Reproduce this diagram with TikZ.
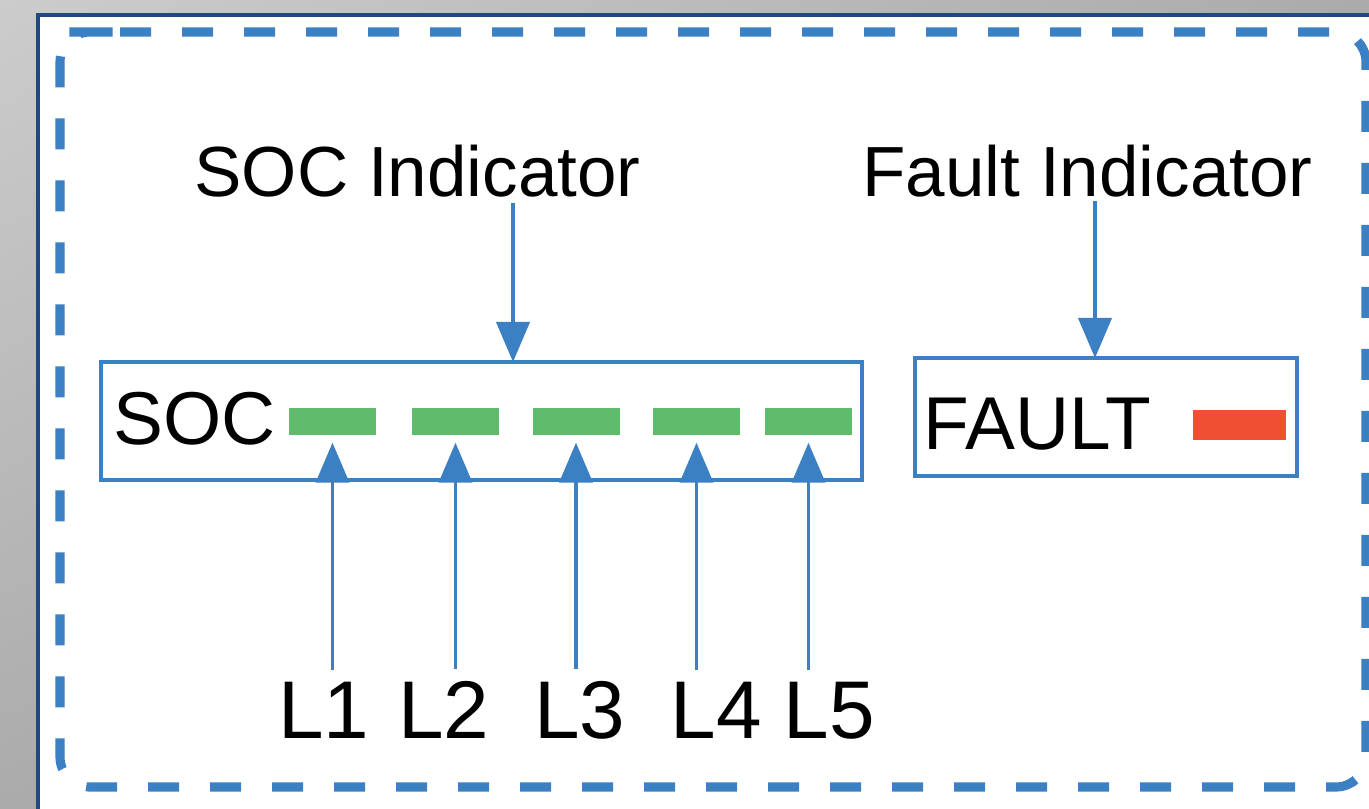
\documentclass[tikz,border=0pt]{standalone}
\usepackage{fontspec}
\setmainfont{Liberation Sans}
\usepackage{xcolor}
\usetikzlibrary{arrows.meta,shadings}

\definecolor{lineblue}{RGB}{58,128,194}
\definecolor{frameblue}{RGB}{31,74,125}
\definecolor{ledgreen}{RGB}{97,187,109}
\definecolor{ledred}{RGB}{239,80,51}

\begin{document}
\begin{tikzpicture}[box/.style={draw=lineblue, line width=1pt, inner sep=0pt, minimum height=1.18cm},
                    led/.style={inner sep=0pt, minimum width=0.87cm, minimum height=0.27cm},
                    lbl/.style={inner sep=0pt, anchor=base},
                    arr/.style={draw=lineblue, line width=1.1pt, -{Triangle[width=0.33cm, length=0.4cm]}}]
                    \useasboundingbox (0,0) rectangle (13.69,8.08);
                    \clip (0,0) rectangle (13.69,8.08);
                    \shade[upper left=black!20, upper right=black!33, lower left=black!33, lower right=black!42] (0,0) rectangle (13.69,8.08);
                    \draw[fill=white, draw=frameblue, line width=1.2pt] (0.38,7.93) rectangle (14.2,-0.5);
                    \draw[lineblue, line width=2.6pt, dash pattern=on 0.31cm off 0.31cm, rounded corners=0.3cm]
                        (0.90,7.76) -| (13.66,0.21) -| (0.60,7.76) -- cycle;

                    \node[box, minimum width=7.61cm] (socbox) at (4.815,3.87) {};
                    \node[box, minimum width=3.82cm] (faultbox) at (11.06,3.91) {};

                    \node[lbl, font=\fontsize{21.3}{25}\selectfont] (soc) at (1.945,3.64) {SOC};
                    \node[lbl, font=\fontsize{21.3}{25}\selectfont] (fault) at (10.375,3.58) {FAULT};

                    \node[led, fill=ledgreen] (b1) at (3.325,3.865) {};
                    \node[led, fill=ledgreen] (b2) at (4.555,3.865) {};
                    \node[led, fill=ledgreen] (b3) at (5.76,3.865) {};
                    \node[led, fill=ledgreen] (b4) at (6.965,3.865) {};
                    \node[led, fill=ledgreen] (b5) at (8.085,3.865) {};
                    \node[led, fill=ledred, minimum width=0.93cm, minimum height=0.30cm] (fl) at (12.395,3.83) {};

                    \node[lbl, font=\fontsize{20.2}{24}\selectfont] (socind) at (4.175,6.11) {SOC Indicator};
                    \node[lbl, font=\fontsize{20.2}{24}\selectfont] (faultind) at (10.875,6.11) {Fault Indicator};

                    \node[lbl, font=\fontsize{23.3}{28}\selectfont] (L1) at (3.24,0.70) {L1};
                    \node[lbl, font=\fontsize{23.3}{28}\selectfont] (L2) at (4.44,0.70) {L2};
                    \node[lbl, font=\fontsize{23.3}{28}\selectfont] (L3) at (5.80,0.70) {L3};
                    \node[lbl, font=\fontsize{23.3}{28}\selectfont] (L4) at (7.165,0.70) {L4};
                    \node[lbl, font=\fontsize{23.3}{28}\selectfont] (L5) at (8.29,0.70) {L5};

                    \coordinate (socin) at (5.13,4.46);
                    \coordinate (faultin) at (10.95,4.50);

                    \draw[arr, shorten <=0.05cm] (socind.south -| socin) -- (socin);
                    \draw[arr, shorten <=0.03cm] (faultind.south -| faultin) -- (faultin);

                    \draw[arr, shorten <=0.11cm, shorten >=0.07cm] (b1.south |- L1.north) -- (b1.south);
                    \draw[arr, shorten <=0.11cm, shorten >=0.07cm] (b2.south |- L2.north) -- (b2.south);
                    \draw[arr, shorten <=0.11cm, shorten >=0.07cm] (b3.south |- L3.north) -- (b3.south);
                    \draw[arr, shorten <=0.11cm, shorten >=0.07cm] (b4.south |- L4.north) -- (b4.south);
                    \draw[arr, shorten <=0.11cm, shorten >=0.07cm] (b5.south |- L5.north) -- (b5.south);
                \end{tikzpicture}
\end{document}
